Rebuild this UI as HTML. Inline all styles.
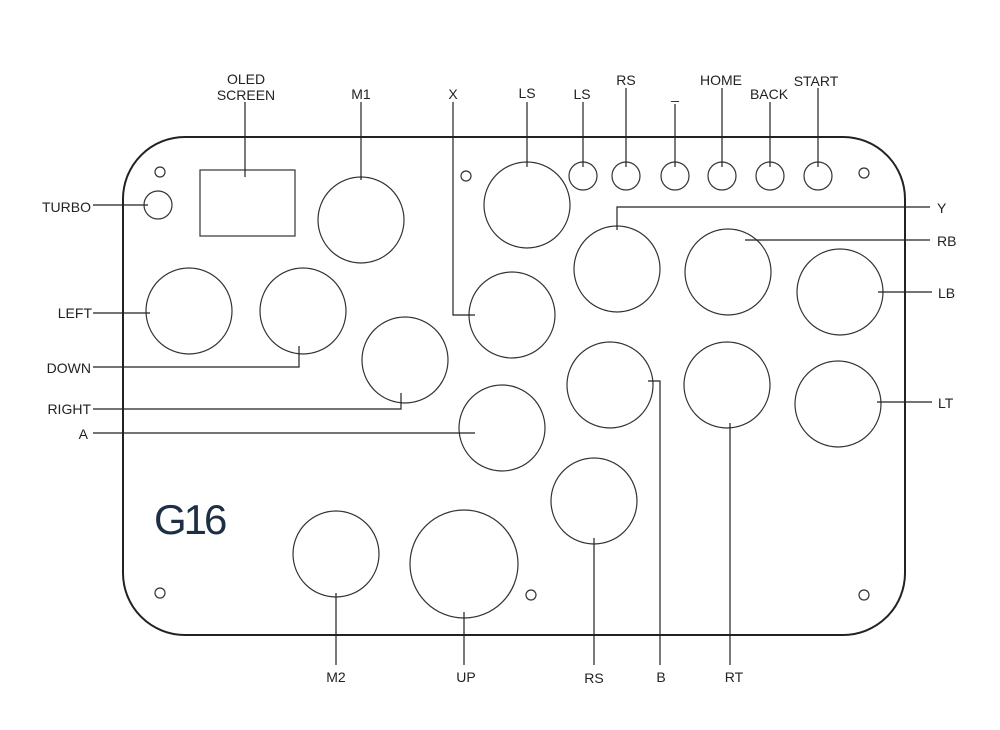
<!DOCTYPE html>
<html><head><meta charset="utf-8"><style>
html,body{margin:0;padding:0;background:#fff;}
svg{display:block;}
text{font-family:"Liberation Sans",sans-serif;font-size:14px;fill:#222;}
</style></head><body>
<svg width="1000" height="730" viewBox="0 0 1000 730" xmlns="http://www.w3.org/2000/svg">
<rect x="123" y="137" width="782" height="498" rx="62" ry="62" fill="none" stroke="#222" stroke-width="2"/>
<g fill="none" stroke="#333" stroke-width="1.2">
<circle cx="160" cy="172" r="5"/><circle cx="466" cy="176" r="5"/><circle cx="864" cy="173" r="5"/>
<circle cx="160" cy="593" r="5"/><circle cx="531" cy="595" r="5"/><circle cx="864" cy="595" r="5"/>
<circle cx="158" cy="205" r="14"/>
<rect x="200" y="170" width="95" height="66"/>
<circle cx="361" cy="220" r="43"/>
<circle cx="189" cy="311" r="43"/>
<circle cx="303" cy="311" r="43"/>
<circle cx="405" cy="360" r="43"/>
<circle cx="502" cy="428" r="43"/>
<circle cx="512" cy="315" r="43"/>
<circle cx="527" cy="205" r="43"/>
<circle cx="583" cy="176" r="14"/><circle cx="626" cy="176" r="14"/><circle cx="675" cy="176" r="14"/>
<circle cx="722" cy="176" r="14"/><circle cx="770" cy="176" r="14"/><circle cx="818" cy="176" r="14"/>
<circle cx="617" cy="269" r="43"/>
<circle cx="728" cy="272" r="43"/>
<circle cx="840" cy="292" r="43"/>
<circle cx="610" cy="385" r="43"/>
<circle cx="727" cy="385" r="43"/>
<circle cx="838" cy="404" r="43"/>
<circle cx="594" cy="501" r="43"/>
<circle cx="336" cy="554" r="43"/>
<circle cx="464" cy="564" r="54"/>
</g>
<g fill="none" stroke="#222" stroke-width="1.2">
<path d="M93 205H148"/>
<path d="M245 102V177"/>
<path d="M361 102V180"/>
<path d="M93 313H150"/>
<path d="M93 367H299V346"/>
<path d="M93 409H401V393"/>
<path d="M93 433H475"/>
<path d="M453 102V315H475"/>
<path d="M527 102V167"/>
<path d="M583 102V167"/><path d="M626 88V167"/><path d="M675 104V167"/>
<path d="M722 88V167"/><path d="M770 102V167"/><path d="M818 88V167"/>
<path d="M617 230V207H930"/>
<path d="M745 240H930"/>
<path d="M878 292H932"/>
<path d="M648 381H660V665"/>
<path d="M730 423V665"/>
<path d="M877 402H932"/>
<path d="M594 538V665"/>
<path d="M336 593V665"/>
<path d="M464 612V665"/>
</g>
<g text-anchor="end">
<text x="91" y="212">TURBO</text>
<text x="92" y="318">LEFT</text>
<text x="91" y="373">DOWN</text>
<text x="91" y="414">RIGHT</text>
<text x="88" y="439">A</text>
</g>
<g text-anchor="middle">
<text x="246" y="84">OLED</text>
<text x="246" y="100">SCREEN</text>
<text x="361" y="99">M1</text>
<text x="453" y="99">X</text>
<text x="527" y="98">LS</text>
<text x="582" y="99">LS</text>
<text x="626" y="85">RS</text>
<text x="675" y="99">_</text>
<text x="721" y="85">HOME</text>
<text x="769" y="99">BACK</text>
<text x="816" y="86">START</text>
<text x="336" y="682">M2</text>
<text x="466" y="682">UP</text>
<text x="594" y="683">RS</text>
<text x="661" y="682">B</text>
<text x="734" y="682">RT</text>
</g>
<text x="937" y="213">Y</text>
<text x="937" y="246">RB</text>
<text x="938" y="298">LB</text>
<text x="938" y="408">LT</text>
<text x="154" y="534" style="font-size:42px;fill:#1c2f44;letter-spacing:-3px;">G16</text>
</svg>
</body></html>
